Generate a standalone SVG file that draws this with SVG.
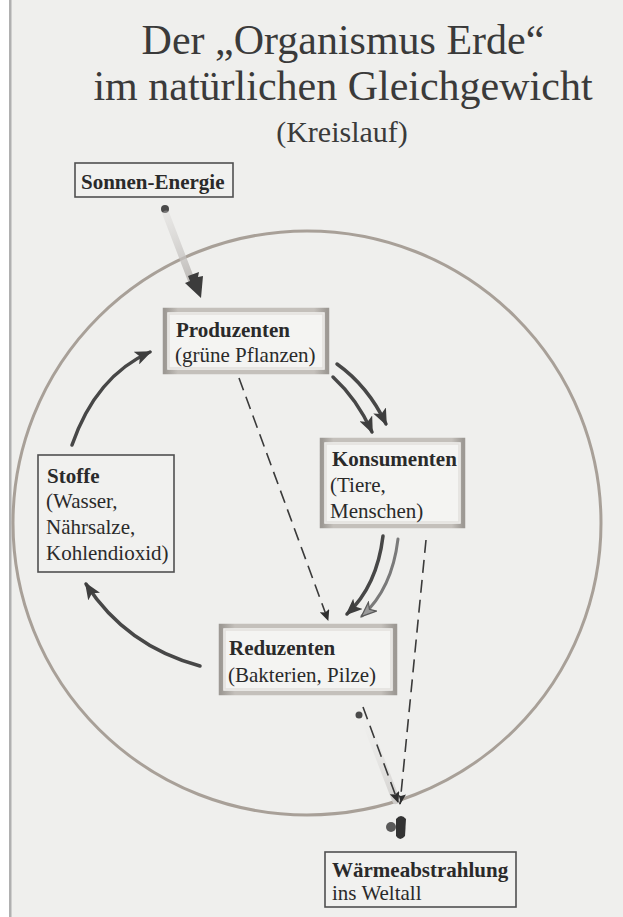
<svg xmlns="http://www.w3.org/2000/svg" width="623" height="917" viewBox="0 0 623 917">
<defs>
<style>
.title{font-family:"Liberation Serif","Times New Roman",serif;fill:#3a3a3a;text-anchor:middle}
.lbl{font-family:"Liberation Serif","Times New Roman",serif;font-size:21px;fill:#2a2a2a}
.b{font-weight:bold}
.plain{fill:#f1f1ef;stroke:#505050;stroke-width:1.6}
.frame{fill:#f4f4f2;stroke:url(#fr);stroke-width:4.5}
.frameIn{fill:none;stroke:#e2e0dd;stroke-width:1.5}
.solid{fill:none;stroke:#474747;stroke-width:3.5;stroke-linecap:round}
.solidL{fill:none;stroke:#7a7a7a;stroke-width:3;stroke-linecap:round}
.dash{fill:none;stroke:#3a3a3a;stroke-width:1.6;stroke-dasharray:13 7}
</style>
<linearGradient id="fr" x1="0" y1="0" x2="1" y2="0">
<stop offset="0" stop-color="#9d9994"/>
<stop offset="0.08" stop-color="#c4c0bb"/>
<stop offset="0.92" stop-color="#c4c0bb"/>
<stop offset="1" stop-color="#9d9994"/>
</linearGradient>
<marker id="hd" markerUnits="userSpaceOnUse" markerWidth="18" markerHeight="14" refX="15" refY="7" orient="auto">
<path d="M0,0 L17,7 L0,14 L4,7 z" fill="#3e3e3e"/>
</marker>
<marker id="hl" markerUnits="userSpaceOnUse" markerWidth="18" markerHeight="14" refX="15" refY="7" orient="auto">
<path d="M1,1 L16,7 L1,13 L5,7 z" fill="#9a9a9a" stroke="#5a5a5a" stroke-width="1.2"/>
</marker>
<marker id="hs" markerUnits="userSpaceOnUse" markerWidth="12" markerHeight="10" refX="10" refY="5" orient="auto">
<path d="M0,0 L11,5 L0,10 L2,5 z" fill="#2e2e2e"/>
</marker>
<linearGradient id="beam" x1="165" y1="209" x2="195" y2="285" gradientUnits="userSpaceOnUse">
<stop offset="0" stop-color="#d8d6d4" stop-opacity="0.3"/>
<stop offset="1" stop-color="#b9b6b3"/>
</linearGradient>
<linearGradient id="beam2" x1="362" y1="720" x2="396" y2="805" gradientUnits="userSpaceOnUse">
<stop offset="0" stop-color="#e6e5e3" stop-opacity="0"/>
<stop offset="1" stop-color="#cfcdcb"/>
</linearGradient>
</defs>

<rect x="0" y="0" width="623" height="917" fill="#efefed"/>
<rect x="0" y="0" width="9" height="917" fill="#ffffff"/>
<rect x="9" y="0" width="2.5" height="917" fill="#b0b0b0"/>

<g id="title">
<text class="title" x="343" y="54" font-size="42">Der „Organismus Erde“</text>
<text class="title" x="343" y="100" font-size="42">im natürlichen Gleichgewicht</text>
<text class="title" x="342" y="142" font-size="30">(Kreislauf)</text>
</g>

<g id="earth">
<ellipse cx="307" cy="523" rx="294" ry="292" fill="none" stroke="#a8a098" stroke-width="3"/>
</g>

<g id="connectors">
<circle cx="165" cy="209" r="4" fill="#4a4a4a"/>
<line x1="166" y1="214" x2="192" y2="282" stroke="url(#beam)" stroke-width="7" stroke-linecap="round"/>
<path d="M201,298 L185,283 L190,281 L188,276 L199,272 L198,277 L203,276 z" fill="#3c3c3c"/>
<path class="solid" d="M337,364 Q368,386 386,424" marker-end="url(#hd)"/>
<path class="solid" d="M333,377 Q357,399 372,432" marker-end="url(#hd)"/>
<path class="solid" d="M383,536 Q377,586 347,614" marker-end="url(#hd)"/>
<path class="solidL" d="M398,539 Q392,589 362,616" marker-end="url(#hl)"/>
<path class="solid" d="M200,666 Q126,646 86,584" marker-end="url(#hd)"/>
<path class="solid" d="M72,445 Q96,376 150,352" marker-end="url(#hd)"/>
<path class="dash" d="M239,378 L328,620" marker-end="url(#hs)"/>
<path class="dash" d="M426,540 L400,804" marker-end="url(#hs)"/>
<line x1="366" y1="722" x2="396" y2="800" stroke="url(#beam2)" stroke-width="8" stroke-linecap="round"/>
<circle cx="359" cy="715" r="3.5" fill="#4a4a4a"/>
<path class="dash" d="M363,707 L398,802" marker-end="url(#hs)"/>
<ellipse cx="391" cy="827" rx="5" ry="5" fill="#5a5a5a"/>
<path d="M396,819 Q401,813 406,819 L405,836 Q400,842 396,836 z" fill="#333"/>
</g>

<g id="sonnen-energie">
<rect class="plain" x="75" y="163" width="158" height="34"/>
<text class="lbl b" x="81" y="189">Sonnen-Energie</text>
</g>

<g id="produzenten">
<rect class="frame" x="165" y="310" width="162" height="62"/>
<rect class="frameIn" x="169" y="314" width="154" height="54"/>
<text class="lbl b" x="176" y="337">Produzenten</text>
<text class="lbl" x="175" y="362">(grüne Pflanzen)</text>
</g>

<g id="konsumenten">
<rect class="frame" x="322" y="440" width="141" height="86"/>
<rect class="frameIn" x="326" y="444" width="133" height="78"/>
<text class="lbl b" x="332" y="466">Konsumenten</text>
<text class="lbl" x="330" y="492">(Tiere,</text>
<text class="lbl" x="330" y="518">Menschen)</text>
</g>

<g id="stoffe">
<rect class="plain" x="38" y="455" width="136" height="117"/>
<text class="lbl b" x="47" y="483">Stoffe</text>
<text class="lbl" x="46" y="508">(Wasser,</text>
<text class="lbl" x="46" y="534">Nährsalze,</text>
<text class="lbl" x="46" y="560">Kohlendioxid)</text>
</g>

<g id="reduzenten">
<rect class="frame" x="221" y="626" width="174" height="67"/>
<rect class="frameIn" x="225" y="630" width="166" height="59"/>
<text class="lbl b" x="229" y="655">Reduzenten</text>
<text class="lbl" x="228" y="682">(Bakterien, Pilze)</text>
</g>

<g id="waermeabstrahlung">
<rect class="plain" x="325" y="852" width="191" height="55"/>
<text class="lbl b" x="332" y="877">Wärmeabstrahlung</text>
<text class="lbl" x="332" y="900">ins Weltall</text>
</g>
</svg>
